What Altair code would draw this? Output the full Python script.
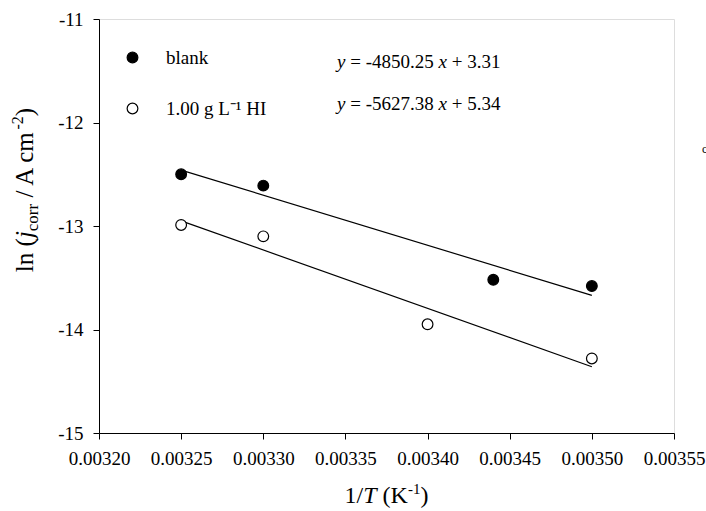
import altair as alt
import pandas as pd

# ---------------- data ----------------
series_names = ["blank", "1.00 g L\u207b\u00b9 HI"]
x_blank = [0.00325, 0.00330, 0.00344, 0.00350]
y_blank = [-12.50, -12.61, -13.52, -13.58]
x_hi = [0.00325, 0.00330, 0.00340, 0.00350]
y_hi = [-12.99, -13.10, -13.95, -14.28]
fit_x = [0.00325, 0.00350]
fit_blank = [-12.46, -13.67]
fit_hi = [-12.95, -14.36]
x_ticks = [0.00320, 0.00325, 0.00330, 0.00335, 0.00340, 0.00345, 0.00350, 0.00355]
y_ticks = [-15, -14, -13, -12, -11]
eq_blank = ["-4850.25", "3.31"]
eq_hi = ["-5627.38", "5.34"]

FONT = "Liberation Serif"
W, H = 575, 414

pts = pd.DataFrame({
    "series": [series_names[0]] * len(x_blank) + [series_names[1]] * len(x_hi),
    "x": x_blank + x_hi,
    "y": y_blank + y_hi,
})
fits = pd.DataFrame({
    "series": [series_names[0]] * 2 + [series_names[1]] * 2,
    "x": fit_x + fit_x,
    "y": fit_blank + fit_hi,
})

xs = alt.Scale(domain=[x_ticks[0], x_ticks[-1]], nice=False, zero=False)
ys = alt.Scale(domain=[y_ticks[0], y_ticks[-1]], nice=False, zero=False)

x_axis = alt.Axis(values=x_ticks, format=".5f", title=None, grid=False,
                  labelFont=FONT, labelFontSize=19,
                  labelFlush=False, labelOverlap=False)
y_axis = alt.Axis(values=y_ticks, labelExpr="datum.value + ''", title=None, grid=False,
                  labelFont=FONT, labelFontSize=19,
                  labelFlush=False, labelOverlap=False)

lines = alt.Chart(fits).mark_line(color="black", strokeWidth=1.2).encode(
    x=alt.X("x:Q", scale=xs, axis=x_axis),
    y=alt.Y("y:Q", scale=ys, axis=y_axis),
    detail="series:N",
)

points = alt.Chart(pts).mark_point(shape="circle", filled=True, size=115,
                                   stroke="black", strokeWidth=1.2, opacity=1).encode(
    x=alt.X("x:Q", scale=xs, axis=x_axis),
    y=alt.Y("y:Q", scale=ys, axis=y_axis),
    fill=alt.Fill("series:N",
                  scale=alt.Scale(domain=series_names, range=["black", "white"]),
                  legend=alt.Legend(orient="none", legendX=24, legendY=29, title=None,
                                    labelFont=FONT, labelFontSize=19, labelColor="black",
                                    symbolType="circle", symbolSize=115,
                                    symbolStrokeColor="black", symbolStrokeWidth=1.2,
                                    rowPadding=31, labelOffset=24, padding=0,
                                    labelLimit=400)),
)

# ---------------- rich text annotations (italic / sub / superscript) ----------------
REG = {" ": 250, "(": 333, ")": 333, "/": 278, ".": 250, "-": 333, "=": 564, "+": 564,
       "A": 722, "K": 722, "T": 611, "c": 444, "m": 778, "l": 278, "n": 500, "o": 500,
       "r": 333, "j": 278}
ITA = {"y": 444, "x": 444, "T": 556, "j": 278}


def tw(s, size, italic=False):
    tab = ITA if italic else REG
    return sum(tab.get(ch, 500) for ch in s) * size / 1000.0


pieces = []  # (text, x, y, size, italic, angle)


def run_h(parts, x0, base):
    x = x0
    for txt, size, ital, shift in parts:
        if txt.strip():
            pieces.append((txt, x, base + shift, size, ital, 0))
        x += tw(txt, size, ital)


def total(parts):
    return sum(tw(t, s, i) for t, s, i, _ in parts)


# equations
EQ = 19
for (slope, icpt), base in zip([eq_blank, eq_hi], [49, 91]):
    run_h([("y", EQ, True, 0), (" ", EQ, False, 0), ("= " + slope, EQ, False, 0),
           (" ", EQ, False, 0), ("x", EQ, True, 0), (" ", EQ, False, 0),
           ("+ " + icpt, EQ, False, 0)], 238, base)

# x title
TT, SS = 24, 15
xparts = [("1/", TT, False, 0), ("T", TT, True, 0), (" ", TT, False, 0), ("(K", TT, False, 0),
          ("-1", SS, False, -9), (")", TT, False, 0)]
run_h(xparts, W / 2 - total(xparts) / 2, 484)

# y title (rotated, reading upward)
YT = 25
yparts = [("ln (", YT, False, 0),
          ("j", YT, True, 0), ("corr", 17, False, 5),
          (" ", YT, False, 0), ("/ A cm", YT, False, 0), ("-2", 16, False, -10),
          (")", YT, False, 0)]
ypos = 171 + total(yparts) / 2
for txt, size, ital, shift in yparts:
    if txt.strip():
        pieces.append((txt, -66 + shift, ypos, size, ital, 270))
    ypos -= tw(txt, size, ital)

# stray mark at the right edge of the reference image
pieces.append(("c", 603, 134, 12, False, 0))

one = pd.DataFrame({"a": [0]})
texts = []
for txt, x, y, size, ital, ang in pieces:
    texts.append(
        alt.Chart(one).mark_text(text=txt, font=FONT, fontSize=size, color="black",
                                 fontStyle="italic" if ital else "normal",
                                 align="left", baseline="alphabetic", angle=ang)
        .encode(x=alt.value(x), y=alt.value(y))
    )

chart = alt.layer(lines, points, *texts).properties(
    width=W, height=H,
    autosize=alt.AutoSizeParams(type="none"),
    padding={"left": 99, "top": 19, "right": 32, "bottom": 78},
).configure_view(stroke="black", strokeWidth=1).configure(
    background="white", font=FONT
).configure_axis(
    labelFont=FONT, labelFontSize=19, labelColor="black", labelPadding=10,
    tickSize=6, tickColor="black", domainColor="black", tickWidth=1, domainWidth=1,
)

chart.save("out.html", embed_options={"renderer": "svg", "actions": False})
